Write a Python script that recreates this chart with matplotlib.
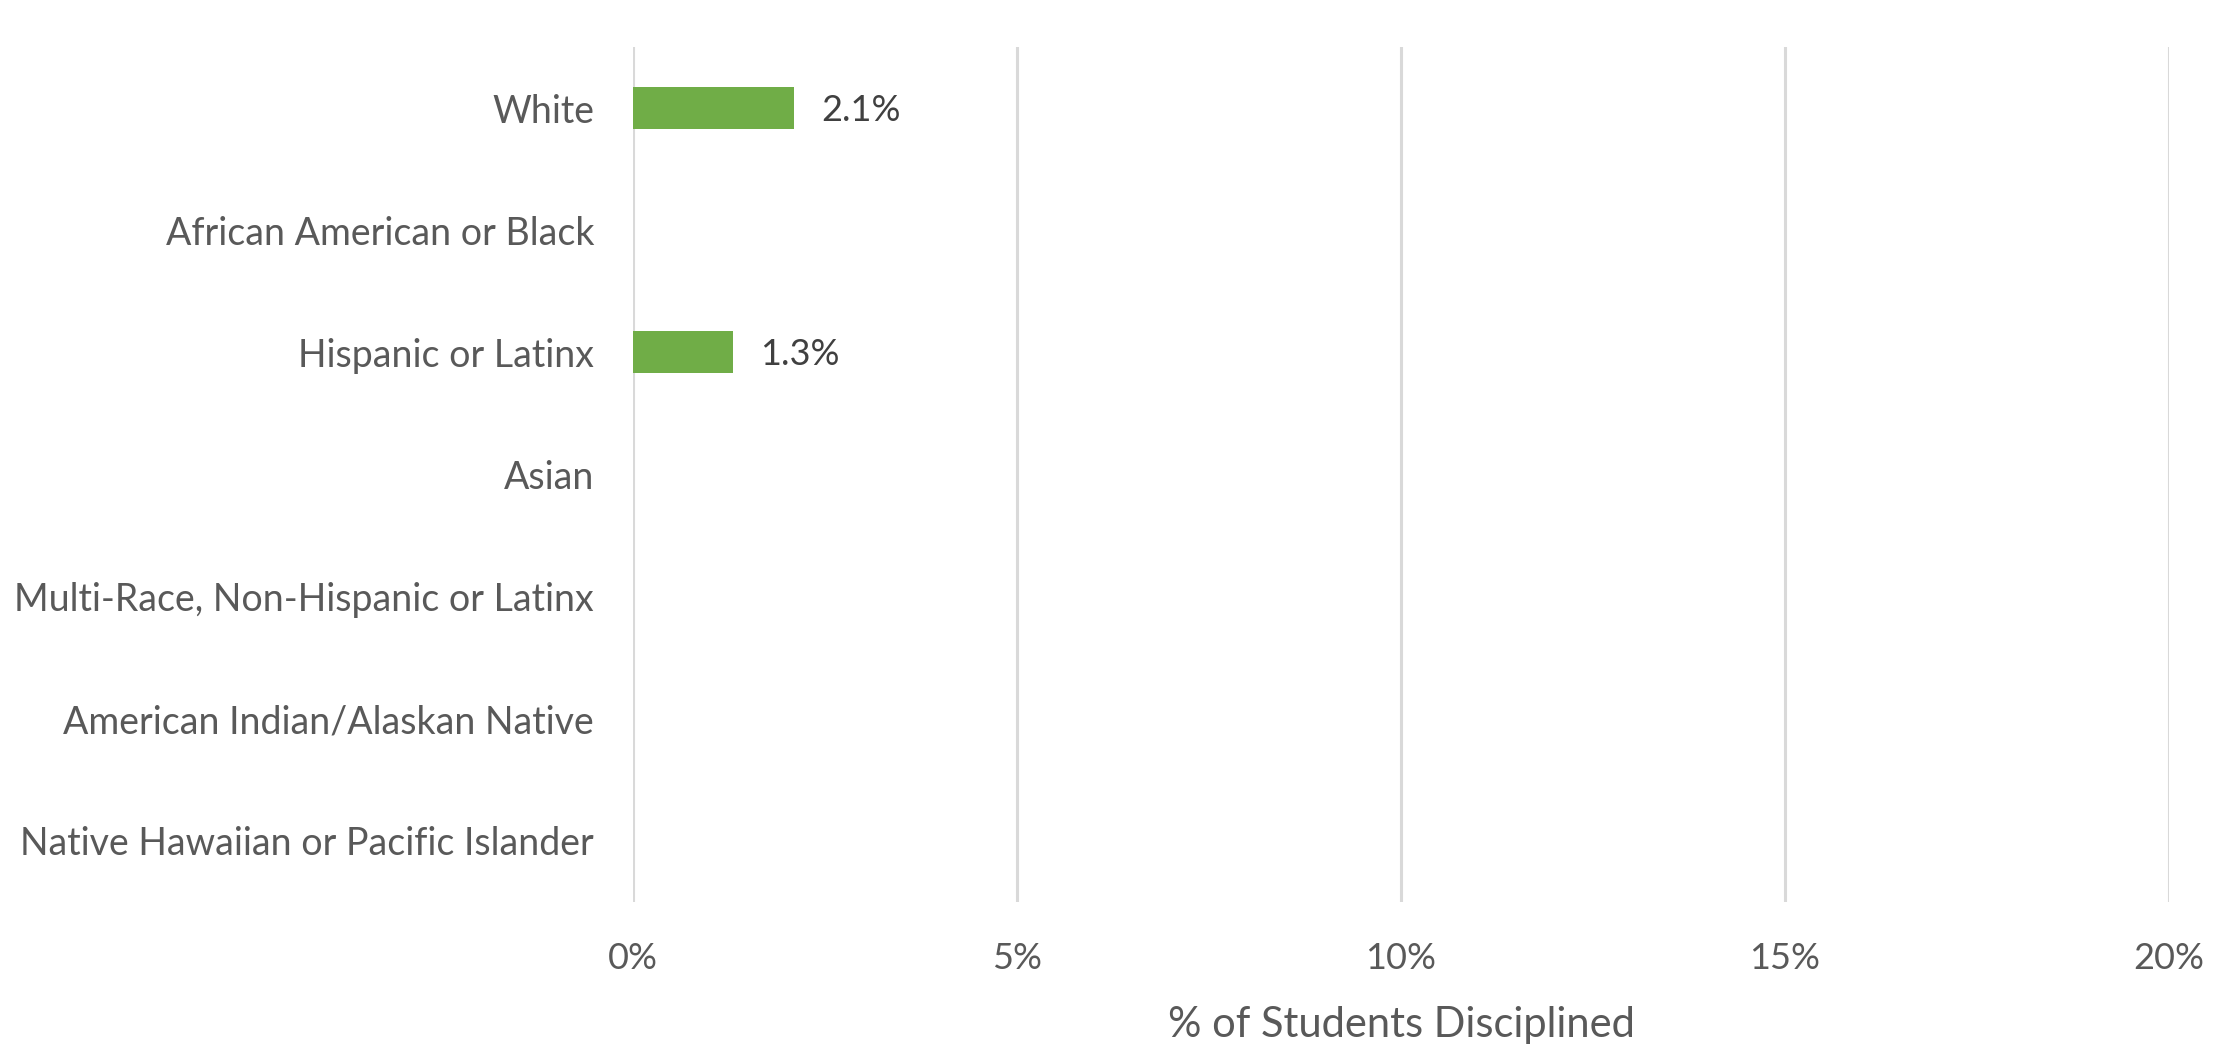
import matplotlib
matplotlib.use("Agg")
import matplotlib.pyplot as plt
from matplotlib.ticker import FuncFormatter

categories = ["White", "African American or Black", "Hispanic or Latinx", "Asian",
              "Multi-Race, Non-Hispanic or Latinx", "American Indian/Alaskan Native",
              "Native Hawaiian or Pacific Islander"]
values = [2.1, None, 1.3, None, None, None, None]
xticks = [0, 5, 10, 15, 20]

plt.rcParams['font.family'] = ['Lato', 'DejaVu Sans']

W, H = 2238, 1062
fig = plt.figure(figsize=(W/100, H/100), dpi=100)
x0, x1 = 633, 2169
y0, y1 = 47, 902
ax = fig.add_axes([x0/W, 1 - y1/H, (x1-x0)/W, (y1-y0)/H])

ypos = list(range(len(categories)))
for i, v in enumerate(values):
    if v is not None:
        ax.barh(i, v, height=0.345, color="#70ad47", zorder=3)
        ax.text(v + 0.35, i + 0.02, f"{v:.1f}%", va="center", ha="left",
                fontsize=26, color="#404040")

ax.set_ylim(len(categories) - 0.5, -0.5)
ax.set_xlim(0, 20)
ax.set_yticks(ypos)
ax.set_yticklabels(categories, fontsize=27, color="#595959")
ax.set_xticks(xticks)
ax.xaxis.set_major_formatter(FuncFormatter(lambda x, p: f"{x:.0f}%"))
ax.tick_params(axis='x', labelsize=26, labelcolor="#595959", length=0, pad=29)
ax.tick_params(axis='y', length=0, pad=28)
ax.grid(axis='x', color="#d9d9d9", linewidth=2.2, zorder=0)
for s in ax.spines.values():
    s.set_visible(False)
ax.set_xlabel("% of Students Disciplined", fontsize=30, color="#595959", labelpad=22)

fig.savefig("out.png", dpi=100, facecolor="white")
